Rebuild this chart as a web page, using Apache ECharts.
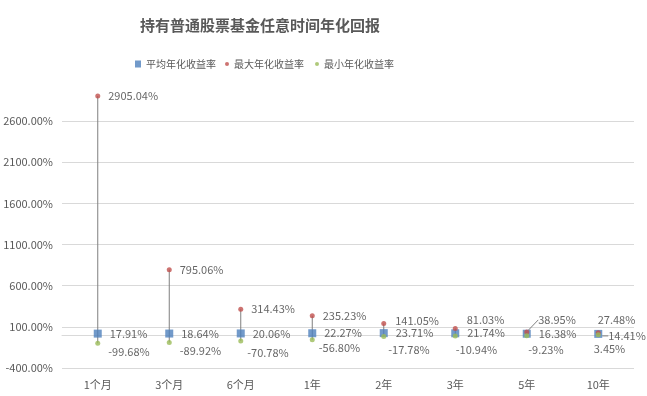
<!DOCTYPE html>
<html>
<head>
<meta charset="utf-8">
<script src="https://cdn.jsdelivr.net/npm/echarts@6/dist/echarts.min.js"></script>
<style>
  html, body { margin: 0; padding: 0; background: #fff; }
  #chart { width: 647px; height: 396px; }
</style>
</head>
<body>
<div id="chart"></div>
<script>
// holding periods
var periods = ['1个月', '3个月', '6个月', '1年', '2年', '3年', '5年', '10年'];
// annualised returns, in %
var avgReturn = [17.91, 18.64, 20.06, 22.27, 23.71, 21.74, 16.38, 14.41];
var maxReturn = [2905.04, 795.06, 314.43, 235.23, 141.05, 81.03, 38.95, 27.48];
var minReturn = [-99.68, -89.92, -70.78, -56.80, -17.78, -10.94, -9.23, 3.45];

// label nudges (px), the way the labels were dragged in the original
var avgShift = [[0, 0], [0, 0], [0, 0], [0, 0], [0, 0], [0, 0], [0, 0], [-2, 2]];
var maxShift = [[0, 0], [0, 0], [0, 0], [0, 0], [1, -3], [1, -9], [1, -12], [-11, -13]];
var minShift = [[0, 9], [0, 8], [-4, 12], [-4, 8], [-6, 13], [-10, 14], [-9, 14], [-15, 14]];

var pct = function (v) { return v.toFixed(2) + '%'; };

var chart = echarts.init(document.getElementById('chart'));

function nudge(table) {
    return function (p) {
        var s = table[p.dataIndex];
        return { dx: s[0], dy: s[1] };
    };
}

var labelBase = {
    show: true,
    position: 'right',
    distance: 8,
    color: '#404040',
    fontSize: 11,
    formatter: function (p) { return pct(p.value[1]); }
};

var option = {
    animation: false,
    textStyle: { fontFamily: 'Noto Sans CJK SC' },
    title: {
        text: '持有普通股票基金任意时间年化回报',
        left: 135,
        top: 13,
        textStyle: { fontSize: 15, fontWeight: 'bold', color: '#595959' }
    },
    legend: [{
        data: [{ name: '平均年化收益率', icon: 'rect' }],
        left: 130,
        top: 54,
        itemWidth: 6,
        itemHeight: 7,
        textStyle: { fontSize: 10, color: '#595959' }
    }, {
        data: [{ name: '最大年化收益率', icon: 'circle' }, { name: '最小年化收益率', icon: 'circle' }],
        left: 220,
        top: 54,
        itemWidth: 4,
        itemHeight: 4,
        itemGap: 11,
        textStyle: { fontSize: 10, color: '#595959' }
    }],
    grid: { left: 62, right: 13, top: 80, bottom: 28 },
    xAxis: {
        type: 'category',
        data: periods,
        axisLine: { lineStyle: { color: '#d9d9d9' } },
        axisTick: { show: false },
        axisLabel: { color: '#595959', fontSize: 11, margin: 11 }
    },
    yAxis: {
        type: 'value',
        min: -400,
        max: 3100,
        interval: 500,
        axisLabel: {
            color: '#595959',
            fontSize: 11,
            margin: 9,
            showMaxLabel: false,
            formatter: function (v) { return pct(v); }
        },
        splitLine: { showMaxLine: false, lineStyle: { color: '#d9d9d9' } }
    },
    series: [{
        name: 'hilo',
        type: 'custom',
        silent: true,
        data: periods.map(function (p, i) { return [i, maxReturn[i], minReturn[i]]; }),
        encode: { x: 0, y: [1, 2] },
        renderItem: function (params, api) {
            var a = api.coord([api.value(0), api.value(1)]);
            var b = api.coord([api.value(0), api.value(2)]);
            return {
                type: 'line',
                shape: { x1: a[0], y1: a[1], x2: b[0], y2: b[1] },
                style: { stroke: '#7f7f7f', lineWidth: 1 }
            };
        },
        z: 1
    }, {
        name: '平均年化收益率',
        type: 'scatter',
        symbol: 'rect',
        symbolSize: 8,
        itemStyle: { color: '#4F81BD' },
        data: periods.map(function (p, i) {
            var d = { value: [i, avgReturn[i]] };
            if (i === 7) d.labelLine = { show: true, lineStyle: { color: '#808080' } };
            return d;
        }),
        label: labelBase,
        labelLayout: nudge(avgShift),
        z: 2
    }, {
        name: '最大年化收益率',
        type: 'scatter',
        symbol: 'circle',
        symbolSize: 5,
        itemStyle: { color: '#C0504D' },
        data: periods.map(function (p, i) {
            var d = { value: [i, maxReturn[i]] };
            if (i === 6) d.labelLine = { show: true, lineStyle: { color: '#808080' } };
            return d;
        }),
        label: labelBase,
        labelLayout: nudge(maxShift),
        z: 3
    }, {
        name: '最小年化收益率',
        type: 'scatter',
        symbol: 'circle',
        symbolSize: 5,
        itemStyle: { color: '#9BBB59' },
        data: periods.map(function (p, i) { return [i, minReturn[i]]; }),
        label: labelBase,
        labelLayout: nudge(minShift),
        z: 4
    }]
};

chart.setOption(option);
</script>
</body>
</html>
